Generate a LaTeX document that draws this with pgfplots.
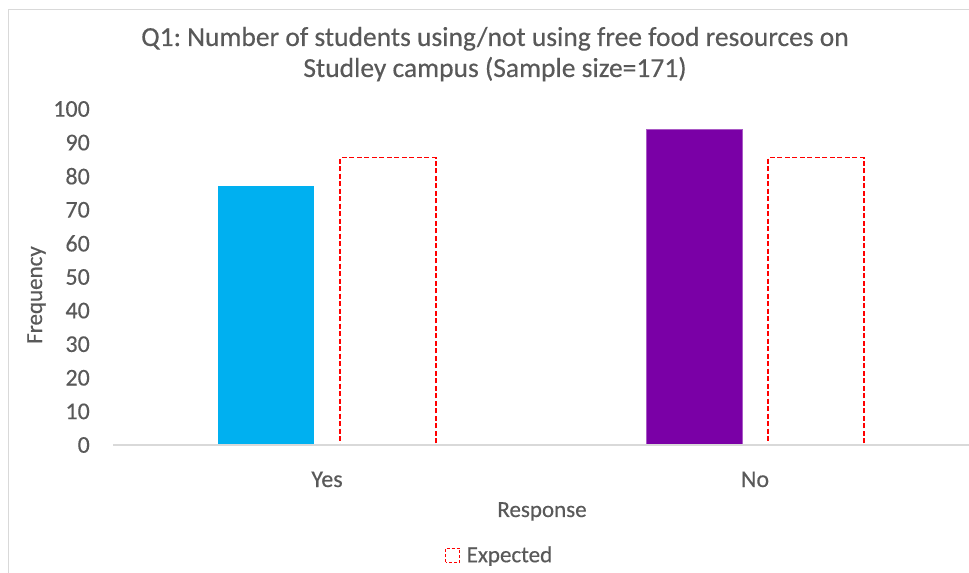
\documentclass[border=0pt]{standalone}
\usepackage{pgfplots}
\pgfplotsset{compat=1.18}
\usepackage{fontspec}
\setmainfont{Carlito}[FakeBold=0.4]
\frenchspacing
\definecolor{txt}{HTML}{595959}
\definecolor{obsblue}{HTML}{00B0F0}
\definecolor{obspurple}{HTML}{7A00A6}
\definecolor{framegray}{HTML}{D9D9D9}

\begin{document}
\begin{tikzpicture}
\path[use as bounding box] (0,0) rectangle (969bp,573bp);
% chart area frame
\draw[framegray, line width=1bp] (8bp,0) -- (8bp,563bp) -- (969bp,563bp);
\begin{axis}[
  at={(113bp,128bp)}, anchor=south west,
  scale only axis, width=856bp, height=336bp,
  xmin=-0.5, xmax=1.5, ymin=0, ymax=100,
  xtick={0,1}, xticklabels={Yes,No},
  ytick={0,10,...,100},
  axis on top,
  axis x line*=bottom, axis y line*=left,
  x axis line style={draw=framegray, line width=1.6bp},
  y axis line style={draw=none},
  major tick length=0pt,
  tick style={draw=none},
  /pgf/number format/assume math mode=true,
  ticklabel style={text=txt, font=\fontsize{24bp}{28bp}\selectfont},
  yticklabel style={anchor=east, inner sep=0pt, xshift=-23bp},
  xticklabel style={anchor=base, inner sep=0pt, yshift=-42bp},
  legend style={at={(0.3879,-0.3274)}, anchor=west, draw=none, fill=none,
    inner sep=0pt, text=txt, font=\fontsize{23bp}{27bp}\selectfont,
    nodes={inner sep=0pt}},
  legend image code/.code={
    \draw[red, line width=1bp, dash pattern=on 3bp off 2bp]
      (0bp,-7bp) rectangle (14bp,7bp);
    \path[draw=none, fill=none] (14bp,0bp) -- (21bp,0bp);},
  clip=false,
]
% observed counts
\addplot[ybar, bar width=0.224, bar shift=-0.1425, fill=obsblue, draw=none, forget plot]
  coordinates {(0,77)};
\addplot[ybar, bar width=0.224, bar shift=-0.1425, fill=obspurple,
  draw=obspurple!65!white, line width=0.6bp, forget plot]
  coordinates {(1,94)};
% expected counts (171/2 each)
\addplot[ybar, bar width=0.224, bar shift=0.1425, fill=none, draw=red,
  line width=1.4bp, dash pattern=on 5bp off 2.5bp]
  coordinates {(0,85.5) (1,85.5)};
\addlegendentry{Expected}
\end{axis}
\node[anchor=base, text=txt, font=\fontsize{27.5bp}{32bp}\selectfont]
  at (495bp,527bp) {Q1: Number of students using/not using free food resources on};
\node[anchor=base, text=txt, font=\fontsize{27.5bp}{32bp}\selectfont]
  at (495bp,496bp) {Studley campus (Sample size=171)};
\node[anchor=base, text=txt, font=\fontsize{23bp}{27bp}\selectfont]
  at (542bp,56bp) {Response};
\node[anchor=base, rotate=90, text=txt, font=\fontsize{23bp}{27bp}\selectfont]
  at (42bp,278bp) {Frequency};
\end{tikzpicture}
\end{document}
